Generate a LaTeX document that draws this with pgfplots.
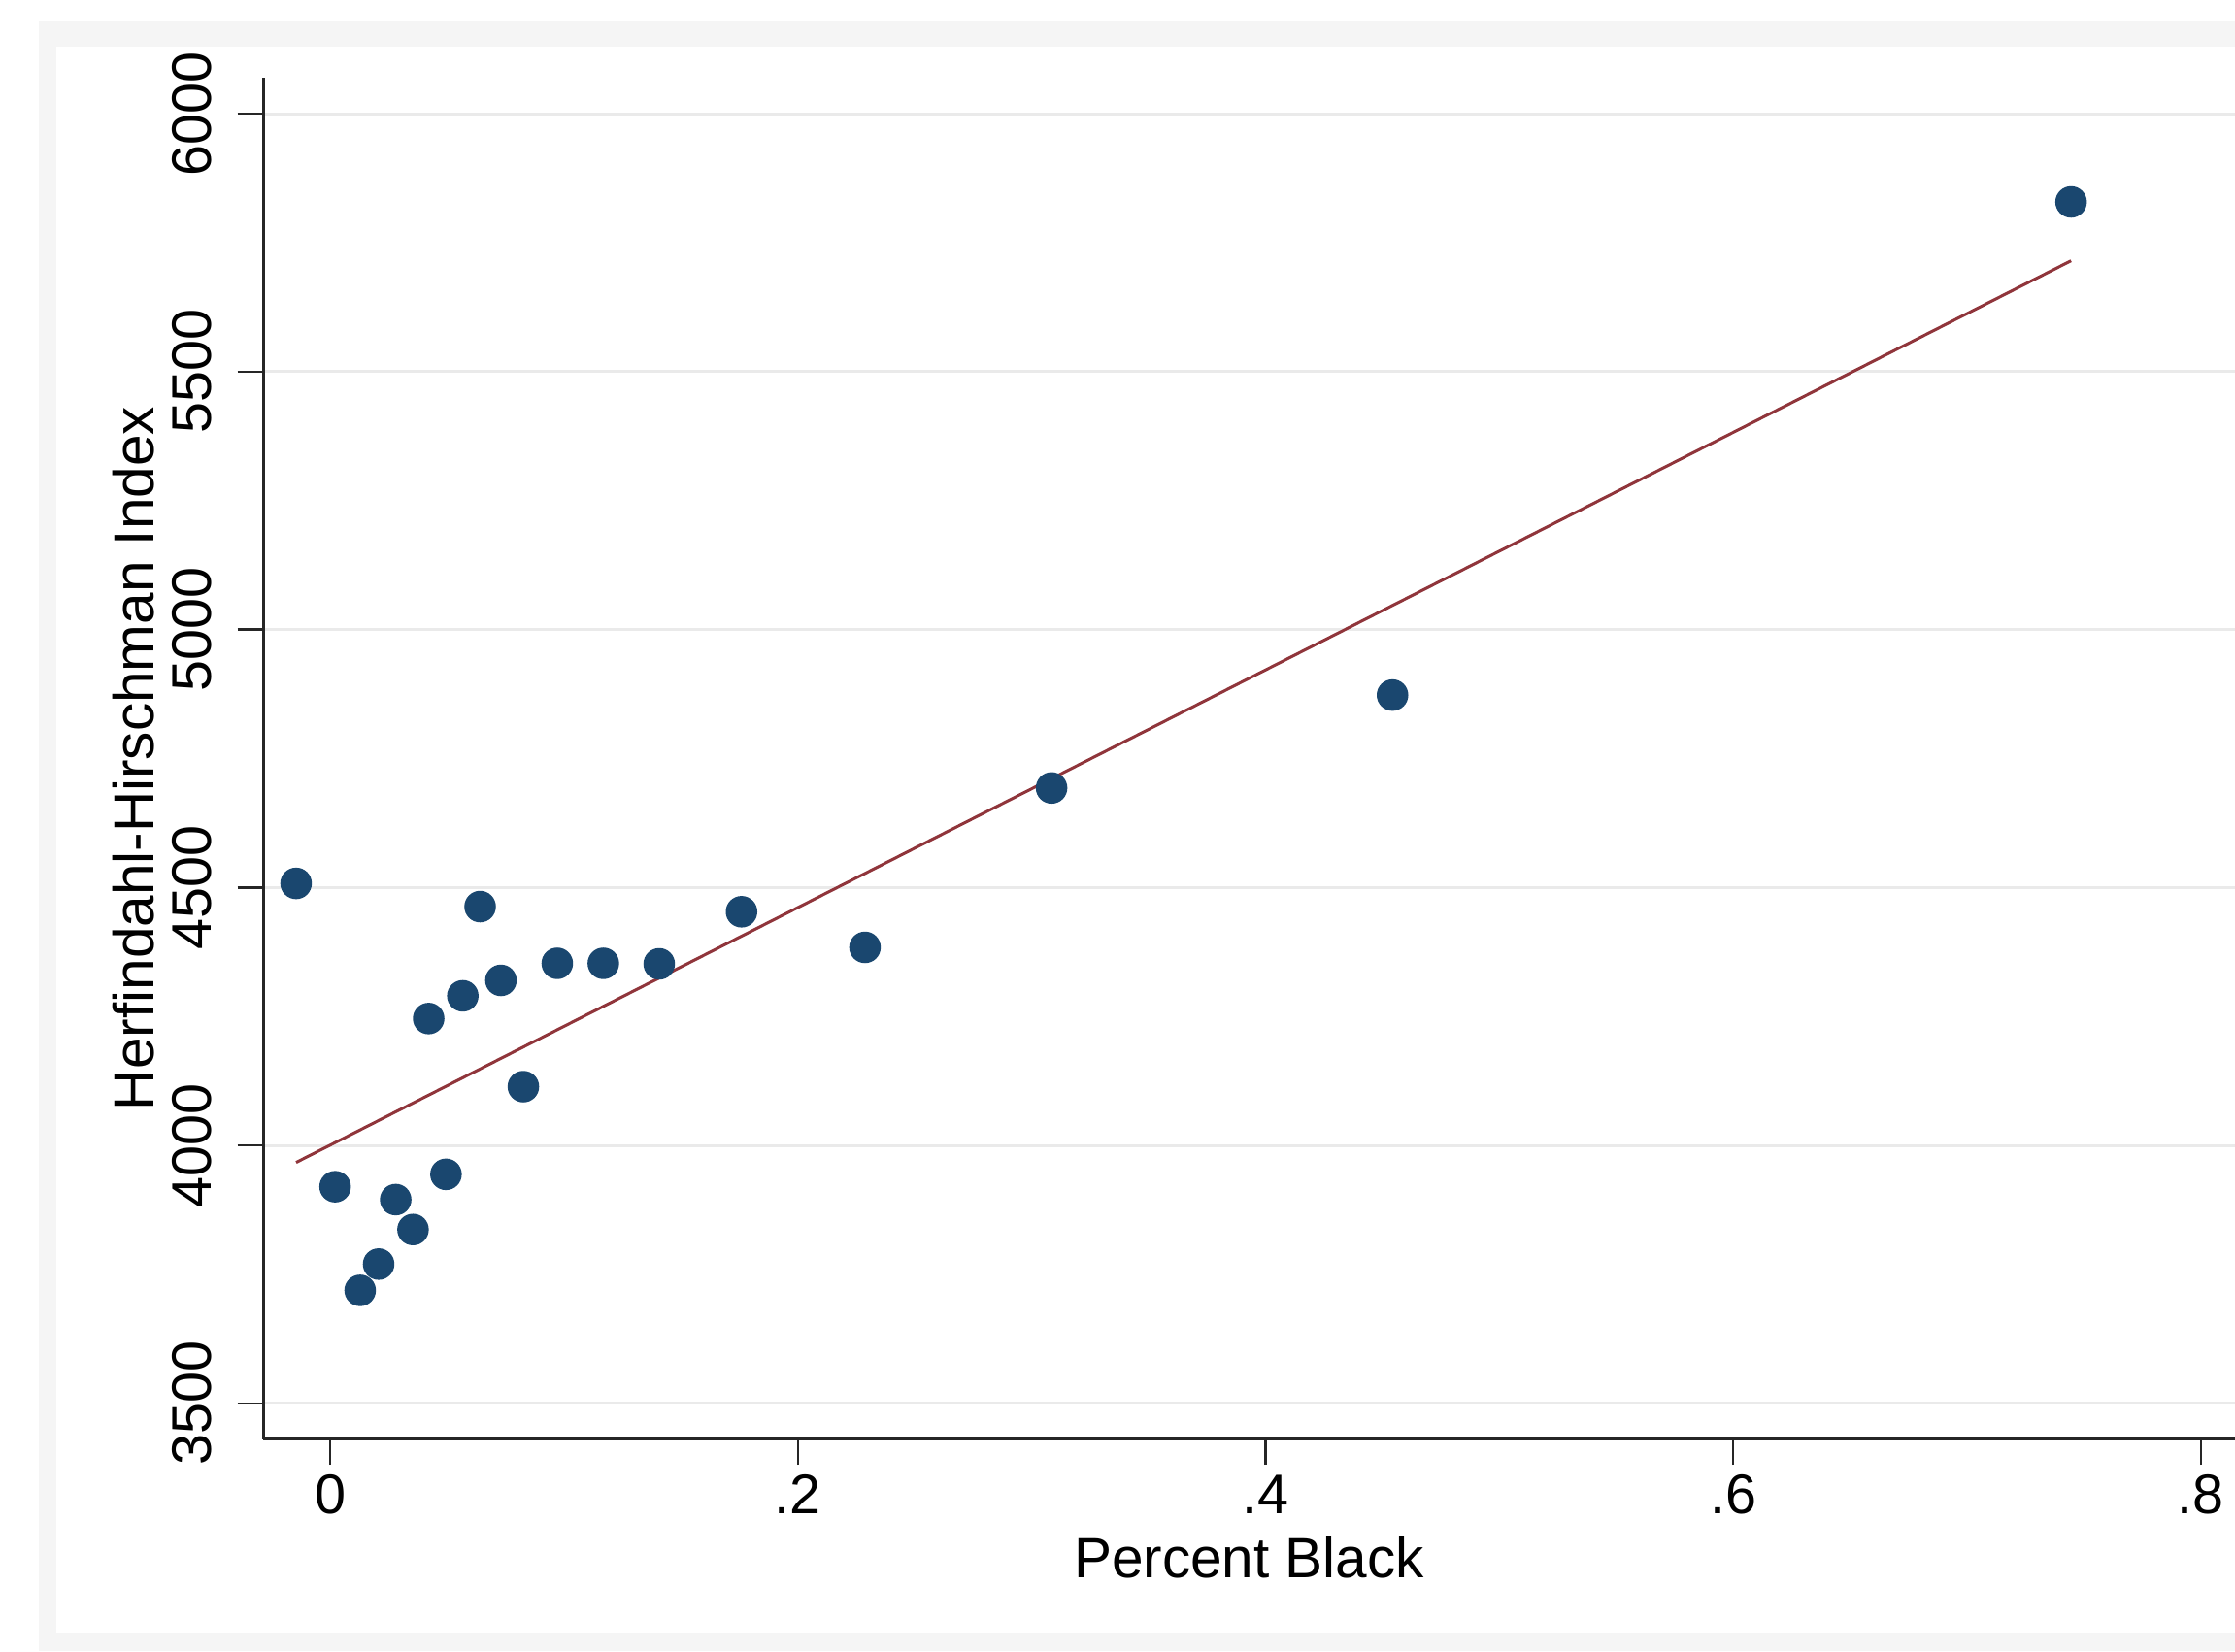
\documentclass[border=0pt]{standalone}
\usepackage{pgfplots}
\pgfplotsset{compat=1.18}
\usepackage{fontspec}
\setmainfont{Liberation Sans}
\definecolor{statanavy}{HTML}{1A476F}
\definecolor{statamaroon}{HTML}{90353B}
\definecolor{gridgray}{HTML}{EAEAEA}
\definecolor{framegray}{HTML}{F5F5F5}
\begin{document}
\begin{tikzpicture}[x=1pt,y=1pt]
\fill[framegray] (8,0) rectangle (460.4,335.8);
\fill[white] (11.5,3.8) rectangle (460.4,330.5);
\begin{axis}[
  at={(54.2pt,43.7pt)}, anchor=south west,
  scale only axis, width=406.2pt, height=280.4pt,
  xmin=-0.0287, xmax=0.8146, ymin=3431, ymax=6069,
  axis x line*=bottom, axis y line*=left,
  axis line style={-, line width=0.6pt, black!85},
  xtick={0,0.2,0.4,0.6,0.8}, xticklabels={0,.2,.4,.6,.8},
  ytick={3500,4000,4500,5000,5500,6000},
  yticklabels={3500,4000,4500,5000,5500,6000},
  tick align=outside, major tick length=5.3pt,
  tick style={black!85, line width=0.5pt},
  ymajorgrids, grid style={gridgray, line width=0.6pt},
  /pgf/number format/assume math mode=true,
  tick label style={font=\fontsize{11.5}{13.8}\selectfont, inner sep=0pt},
  yticklabel style={rotate=90, anchor=base},
  xticklabel style={anchor=base},
  yticklabel shift=5.4pt,
  xticklabel shift=10pt,
  label style={font=\fontsize{11.7}{14}\selectfont, inner sep=0pt},
  xlabel={Percent Black},
  xlabel style={at={(axis description cs:0.5,0)}, anchor=base, yshift=-28.5pt},
  ylabel={Herfindahl-Hirschman Index},
  ylabel style={at={(axis description cs:-0.0556,0.5)}, anchor=base},
]
\addplot[only marks, mark=*, mark size=3.05pt, mark options={fill=statanavy, draw=statanavy}] table {
x y
-0.0146 4508
0.0021 3920
0.0128 3719
0.0207 3770
0.0280 3895
0.0354 3837
0.0421 4246
0.0495 3944
0.0567 4290
0.0641 4463
0.0730 4320
0.0826 4114
0.0971 4353
0.1168 4353
0.1407 4352
0.1759 4453
0.2287 4384
0.3085 4693
0.4543 4873
0.7445 5829
};
\addplot[statamaroon, line width=0.6pt] coordinates {(-0.0146,3967) (0.7445,5715)};
\end{axis}
\pgfresetboundingbox
\useasboundingbox (0,0) rectangle (460.4,340.2);
\end{tikzpicture}
\end{document}
